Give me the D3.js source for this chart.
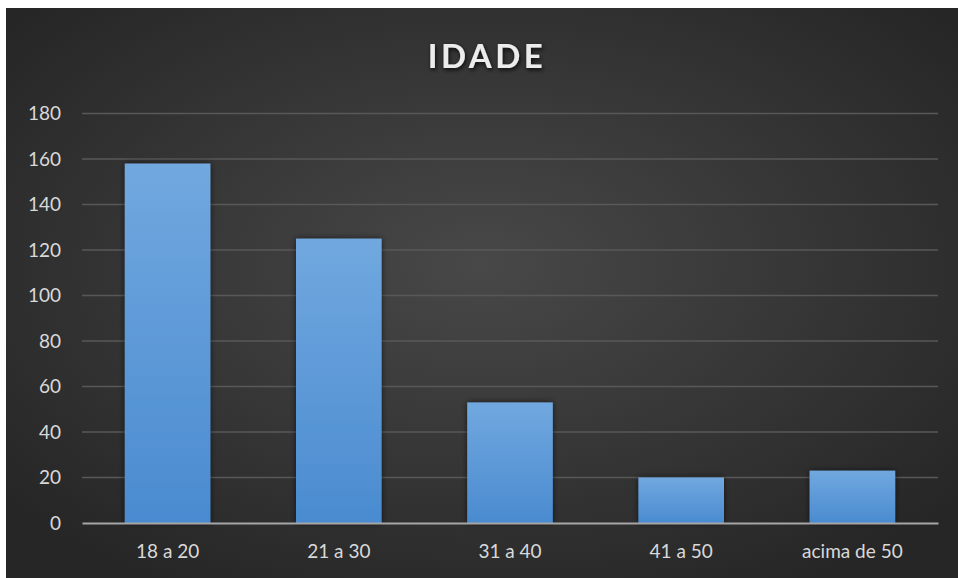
<!DOCTYPE html>
<html><head><meta charset="utf-8">
<script src="https://cdn.jsdelivr.net/npm/d3@7"></script>
<style>html,body{margin:0;padding:0;background:#fff;}svg{display:block;}</style>
</head><body>
<script>
const categories = ["18 a 20", "21 a 30", "31 a 40", "41 a 50", "acima de 50"];
const values = [158, 125, 53, 20, 23];
const yTicks = [0, 20, 40, 60, 80, 100, 120, 140, 160, 180];
const chartTitle = "IDADE";

(function () {
const W = 958, H = 578;
const svg = d3.select("body").append("svg").attr("width", W).attr("height", H);
const defs = svg.append("defs");

const bg = defs.append("radialGradient").attr("id", "bg").attr("cx", "50%").attr("cy", "45%").attr("r", "65%");
bg.append("stop").attr("offset", "0%").attr("stop-color", "#484848");
bg.append("stop").attr("offset", "100%").attr("stop-color", "#262626");

const bar = defs.append("linearGradient").attr("id", "bar").attr("x1", 0).attr("y1", 0).attr("x2", 0).attr("y2", 1);
bar.append("stop").attr("offset", "0%").attr("stop-color", "#71a8df");
bar.append("stop").attr("offset", "100%").attr("stop-color", "#4a8bd0");

const sh = defs.append("filter").attr("id", "sh").attr("x", "-20%").attr("y", "-20%").attr("width", "140%").attr("height", "140%");
sh.append("feDropShadow").attr("dx", 0).attr("dy", 0).attr("stdDeviation", 3).attr("flood-color", "#000").attr("flood-opacity", 0.6);

const tsh = defs.append("filter").attr("id", "tsh").attr("x", "-20%").attr("y", "-30%").attr("width", "140%").attr("height", "160%");
tsh.append("feDropShadow").attr("dx", 1).attr("dy", 2).attr("stdDeviation", 2).attr("flood-color", "#000").attr("flood-opacity", 0.8);

svg.append("rect").attr("x", 6).attr("y", 8).attr("width", W - 6).attr("height", H - 8).attr("fill", "url(#bg)");

const pLeft = 82, pRight = 938, pTop = 113.5, pBottom = 523;
const x = d3.scaleBand().domain(categories).range([pLeft, pRight]).paddingInner(0.5).paddingOuter(0.25);
const y = d3.scaleLinear().domain([0, 180]).range([pBottom, pTop]);

svg.append("g").selectAll("line").data(yTicks.filter(d => d > 0)).join("line")
  .attr("x1", pLeft).attr("x2", pRight)
  .attr("y1", d => y(d)).attr("y2", d => y(d))
  .attr("stroke", "#585858").attr("stroke-width", 1.3);

const font = "Lato, 'Open Sans', sans-serif";
const yAxis = d3.axisLeft(y).tickValues(yTicks).tickSize(0).tickPadding(0);
const ya = svg.append("g").attr("transform", `translate(${pLeft - 21},0)`).call(yAxis);
ya.select(".domain").remove();
ya.selectAll("text").attr("fill", "#d9d9d9").attr("font-family", font).attr("font-size", 19);

svg.append("g").selectAll("rect").data(values).join("rect")
  .attr("x", (d, i) => x(categories[i]))
  .attr("width", x.bandwidth())
  .attr("y", d => y(d))
  .attr("height", d => y(0) - y(d))
  .attr("fill", "url(#bar)")
  .attr("filter", "url(#sh)");

const xAxis = d3.axisBottom(x).tickSize(0).tickPadding(22);
const xa = svg.append("g").attr("transform", `translate(0,${pBottom})`).call(xAxis);
xa.select(".domain").attr("stroke", "#a6a6a6").attr("stroke-width", 2);
xa.selectAll("text").attr("fill", "#d9d9d9").attr("font-family", font).attr("font-size", 19);

svg.append("text").attr("x", 487).attr("y", 68).attr("text-anchor", "middle")
  .attr("font-family", font).attr("font-weight", "bold")
  .attr("font-size", 33).attr("letter-spacing", 3.5).attr("fill", "#ececec")
  .attr("filter", "url(#tsh)").text(chartTitle);
})();
</script>
</body></html>
